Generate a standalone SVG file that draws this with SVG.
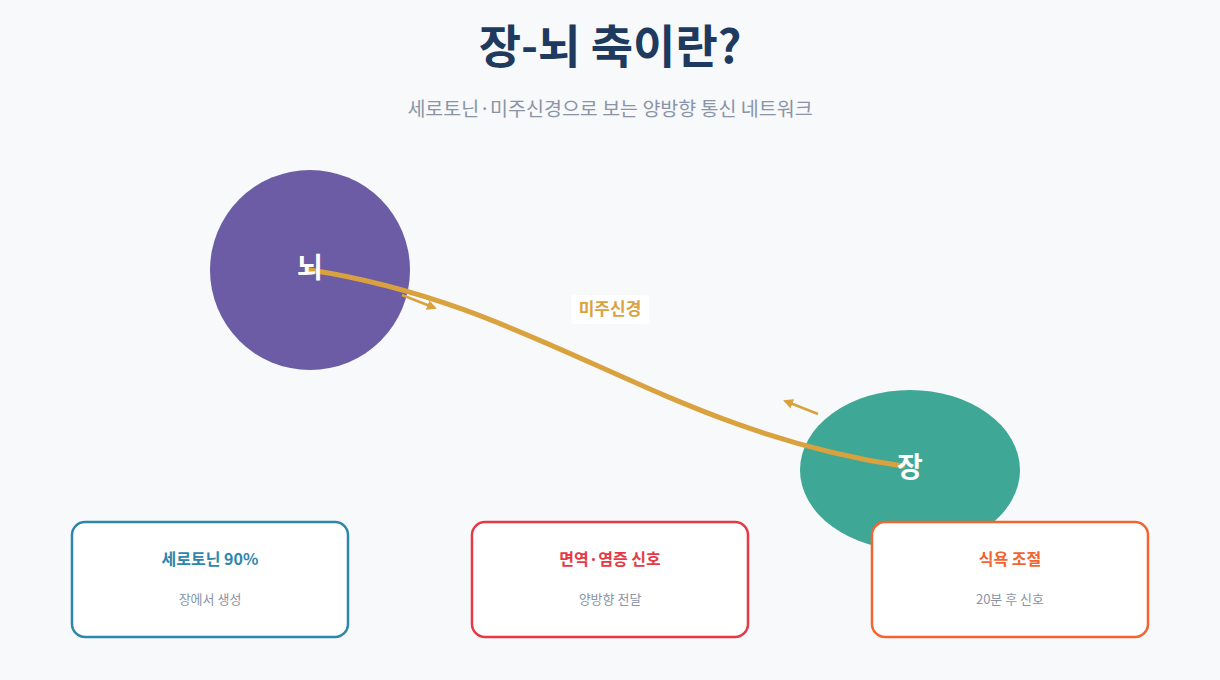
<svg xmlns="http://www.w3.org/2000/svg" width="1220" height="680" viewBox="0 0 1220 680">
<defs>
<style>
text{font-family:"Noto Sans CJK KR","Noto Sans",sans-serif;text-anchor:middle}
.title{font-size:46px;font-weight:700;fill:#1f3a5f}
.sub{font-size:19.5px;fill:#8a94a6}
.node{font-size:28px;font-weight:700;fill:#ffffff}
.card{fill:#ffffff;stroke-width:2.5}
.ct{font-size:16px;font-weight:700}
.cs{font-size:13px;fill:#8a94a6}
.small{stroke:#d9a23e;stroke-width:2.5;fill:none}
</style>
<marker id="ah" viewBox="0 0 10 10" refX="8" refY="5" markerWidth="4" markerHeight="4" orient="auto">
<path d="M0,0 L10,5 L0,10 z" fill="#d9a23e"/>
</marker>
</defs>
<rect width="1220" height="680" fill="#f7f9fb"/>
<text class="title" x="610" y="63">장-뇌 축이란?</text>
<text class="sub" x="610" y="116">세로토닌·미주신경으로 보는 양방향 통신 네트워크</text>
<g id="brain"><circle cx="310" cy="270" r="100" fill="#6b5ca5"/></g>
<g id="gut"><ellipse cx="910" cy="470" rx="110" ry="80" fill="#3fa796"/></g>
<g id="connectors">
<path d="M310,270 C540,305 660,430 903,466" fill="none" stroke="#d9a23e" stroke-width="5" stroke-linecap="round"/>
<line class="small" x1="402" y1="295" x2="435" y2="308" marker-end="url(#ah)"/>
<line class="small" x1="818" y1="414" x2="785" y2="401" marker-end="url(#ah)"/>
</g>
<g id="label-vagus">
<rect x="571" y="295" width="78" height="29" rx="4" fill="#ffffff"/>
<text x="610" y="315" font-size="17" font-weight="700" fill="#d9a23e">미주신경</text>
</g>
<text class="node" x="310" y="278">뇌</text>
<text class="node" x="910" y="477">장</text>
<g id="card-serotonin">
<rect class="card" x="72" y="522" width="276" height="115" rx="13" stroke="#2e86ab"/>
<text class="ct" x="210" y="565" fill="#2e86ab">세로토닌 90%</text>
<text class="cs" x="210" y="604">장에서 생성</text>
</g>
<g id="card-immune">
<rect class="card" x="472" y="522" width="276" height="115" rx="13" stroke="#e63946"/>
<text class="ct" x="610" y="565" fill="#e63946">면역·염증 신호</text>
<text class="cs" x="610" y="604">양방향 전달</text>
</g>
<g id="card-appetite">
<rect class="card" x="872" y="522" width="276" height="115" rx="13" stroke="#f26532"/>
<text class="ct" x="1010" y="565" fill="#f26532">식욕 조절</text>
<text class="cs" x="1010" y="604">20분 후 신호</text>
</g>
</svg>
